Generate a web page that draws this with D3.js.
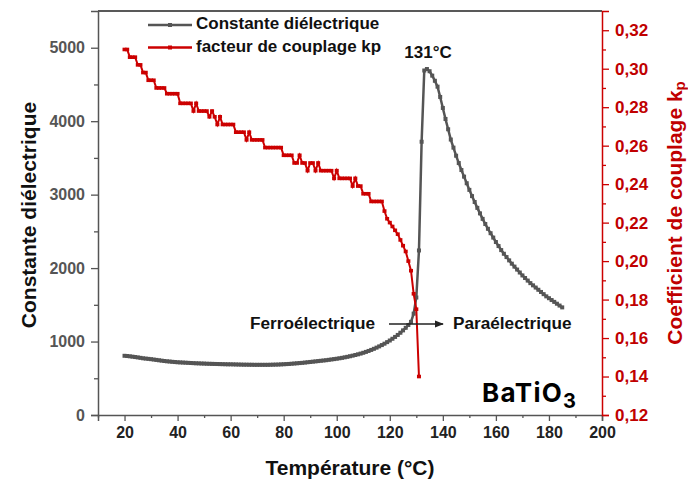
<!DOCTYPE html>
<html>
<head>
<meta charset="utf-8">
<script src="https://cdn.jsdelivr.net/npm/d3@7"></script>
<style>
  html, body { margin: 0; padding: 0; background: #fff; }
  svg { display: block; font-family: "Liberation Sans", Arial, sans-serif; font-weight: bold; }
</style>
</head>
<body>
<svg id="chart" width="688" height="485"></svg>
<script>
// Dielectric constant of BaTiO3 vs temperature (°C)
const dielTemps = [
  20,21,22,23,24,25,26,27,28,29,30,31,32,33,34,35,36,37,38,39,
  40,41,42,43,44,45,46,47,48,49,50,51,52,53,54,55,56,57,58,59,
  60,61,62,63,64,65,66,67,68,69,70,71,72,73,74,75,76,77,78,79,
  80,81,82,83,84,85,86,87,88,89,90,91,92,93,94,95,96,97,98,99,
  100,101,102,103,104,105,106,107,108,109,110,111,112,113,114,115,116,117,118,119,
  120,121,122,123,124,125,126,127,128,129,130,131,132,133,134,135,136,137,138,139,
  140,141,142,143,144,145,146,147,148,149,150,151,152,153,154,155,156,157,158,159,
  160,161,162,163,164,165,166,167,168,169,170,171,172,173,174,175,176,177,178,179,
  180,181,182,183,184,185
];
const dielValues = [
  806,803,799,794,789,784,778,772,768,764,760,755,750,745,740,735,731,728,724,721,
  718,716,714,712,710,708,706,704,703,701,700,698,697,696,695,694,693,692,691,690,
  690,689,688,687,686,685,685,684,684,683,683,683,683,683,683,684,685,686,687,689,
  691,693,695,698,701,704,707,710,714,718,722,726,730,734,738,742,746,751,756,761,
  766,772,778,785,792,800,808,817,826,836,847,859,872,886,901,917,934,952,971,992,
  1014,1038,1063,1090,1120,1152,1187,1225,1268,1380,1600,2240,3720,4690,4710,4680,4620,4550,4470,4330,
  4180,4030,3890,3750,3640,3530,3430,3335,3245,3155,3065,2980,2900,2820,2745,2670,2600,2535,2475,2415,
  2355,2300,2245,2195,2150,2105,2060,2020,1980,1940,1900,1865,1830,1795,1765,1735,1705,1675,1645,1615,
  1590,1565,1540,1515,1490,1465
];

// Planar coupling factor kp vs temperature (°C)
const kpTemps = [
  20,21,22,23,24,25,26,27,28,29,30,31,32,33,34,35,36,37,38,39,
  40,41,42,43,44,45,46,47,48,49,50,51,52,53,54,55,56,57,58,59,
  60,61,62,63,64,65,66,67,68,69,70,71,72,73,74,75,76,77,78,79,
  80,81,82,83,84,85,86,87,88,89,90,91,92,93,94,95,96,97,98,99,
  100,101,102,103,104,105,106,107,108,109,110,111,112,113,114,115,116,117,118,119,
  120,121,122,123,124,125,126,127,128,129,130,131
];
const kpValues = [
  0.310,0.310,0.306,0.306,0.306,0.302,0.302,0.298,0.298,0.294,0.294,0.294,0.290,0.290,0.290,0.290,0.287,0.287,0.287,0.287,
  0.287,0.282,0.282,0.282,0.282,0.282,0.278,0.282,0.278,0.278,0.278,0.278,0.275,0.278,0.275,0.271,0.275,0.271,0.271,0.271,
  0.271,0.271,0.267,0.267,0.267,0.267,0.263,0.267,0.263,0.263,0.263,0.263,0.263,0.259,0.259,0.259,0.259,0.259,0.259,0.259,
  0.255,0.255,0.255,0.255,0.251,0.251,0.255,0.251,0.251,0.247,0.251,0.251,0.247,0.251,0.247,0.247,0.247,0.247,0.247,0.243,
  0.247,0.243,0.243,0.243,0.243,0.243,0.239,0.243,0.239,0.239,0.235,0.235,0.235,0.231,0.231,0.231,0.231,0.231,0.226,0.222,
  0.220,0.218,0.216,0.214,0.211,0.208,0.205,0.200,0.195,0.183,0.175,0.140
];

// Axis ticks
const xMajorTicks = [20,40,60,80,100,120,140,160,180,200];
const xMinorTicks = [10,30,50,70,90,110,130,150,170,190];
const leftMajorTicks = [0,1000,2000,3000,4000,5000];
const leftMinorTicks = [500,1500,2500,3500,4500];
const rightMajorTicks = [0.12,0.14,0.16,0.18,0.20,0.22,0.24,0.26,0.28,0.30,0.32];
const rightMinorTicks = [0.13,0.15,0.17,0.19,0.21,0.23,0.25,0.27,0.29,0.31];

const GRAY = "#555555";
const RED = "#cc0000";
const RED_TEXT = "#c00000";

const svg = d3.select("#chart");
const plot = { left: 98, right: 602, top: 11, bottom: 415 };

const x = d3.scaleLinear().domain([10, 200]).range([plot.left, plot.right]);
const yL = d3.scaleLinear().domain([0, 5500]).range([plot.bottom, plot.top]);
const yR = d3.scaleLinear().domain([0.12, 0.33]).range([plot.bottom, plot.top]);

// top frame line
svg.append("line")
  .attr("x1", plot.left).attr("x2", plot.right)
  .attr("y1", plot.top).attr("y2", plot.top)
  .attr("stroke", "#222").attr("stroke-width", 1.5);

function styleAxis(g, color, textColor, fontSize) {
  g.select(".domain").attr("stroke", color).attr("stroke-width", 1.5);
  g.selectAll(".tick line").attr("stroke", color).attr("stroke-width", 1.3);
  g.selectAll(".tick text")
    .attr("fill", textColor)
    .style("font-size", fontSize + "px")
    .style("font-weight", "bold")
    .style("font-family", "'Liberation Sans', Arial, sans-serif");
}

// bottom axis
const gx = svg.append("g").attr("transform", `translate(0,${plot.bottom})`)
  .call(d3.axisBottom(x).tickValues(xMajorTicks).tickSize(6).tickPadding(6).tickFormat(d3.format("d")));
styleAxis(gx, GRAY, "#222", 16);
const gxm = svg.append("g").attr("transform", `translate(0,${plot.bottom})`)
  .call(d3.axisBottom(x).tickValues(xMinorTicks).tickSize(3).tickFormat(""));
styleAxis(gxm, GRAY, "#222", 16);
gxm.select(".domain").remove();

// left axis
const gl = svg.append("g").attr("transform", `translate(${plot.left},0)`)
  .call(d3.axisLeft(yL).tickValues(leftMajorTicks).tickSize(7).tickPadding(6).tickFormat(d3.format("d")));
styleAxis(gl, GRAY, GRAY, 16);
const glm = svg.append("g").attr("transform", `translate(${plot.left},0)`)
  .call(d3.axisLeft(yL).tickValues(leftMinorTicks).tickSize(4).tickFormat(""));
styleAxis(glm, GRAY, GRAY, 16);
glm.select(".domain").remove();

// right axis
const commaFmt = d => d3.format(".2f")(d).replace(".", ",");
const gr = svg.append("g").attr("transform", `translate(${plot.right},0)`)
  .call(d3.axisRight(yR).tickValues(rightMajorTicks).tickSize(7).tickPadding(6).tickFormat(commaFmt));
styleAxis(gr, RED, RED_TEXT, 17);
const grm = svg.append("g").attr("transform", `translate(${plot.right},0)`)
  .call(d3.axisRight(yR).tickValues(rightMinorTicks).tickSize(4).tickFormat(""));
styleAxis(grm, RED, RED_TEXT, 17);
grm.select(".domain").remove();

// axis titles
svg.append("text")
  .attr("transform", `translate(30,${(plot.top + plot.bottom) / 2 + 2}) rotate(-90)`)
  .attr("text-anchor", "middle").attr("dominant-baseline", "middle")
  .attr("fill", "#111").style("font-size", "21px")
  .text("Constante diélectrique");

const rt = svg.append("text")
  .attr("transform", `translate(676,${(plot.top + plot.bottom) / 2}) rotate(-90)`)
  .attr("text-anchor", "middle").attr("dominant-baseline", "middle")
  .attr("fill", RED_TEXT).style("font-size", "21px");
rt.append("tspan").text("Coefficient de couplage k");
rt.append("tspan").attr("dy", 5).style("font-size", "15px").text("p");

svg.append("text")
  .attr("x", (plot.left + plot.right) / 2).attr("y", 475)
  .attr("text-anchor", "middle").attr("fill", "#111").style("font-size", "21px")
  .text("Température (°C)");

// dielectric constant curve
const dielData = dielTemps.map((t, i) => ({ t, v: dielValues[i] }));
const kpData = kpTemps.map((t, i) => ({ t, v: kpValues[i] }));

svg.append("path").datum(dielData)
  .attr("fill", "none").attr("stroke", GRAY).attr("stroke-width", 2.5)
  .attr("d", d3.line().x(d => x(d.t)).y(d => yL(d.v)));
svg.append("g").selectAll("rect").data(dielData).join("rect")
  .attr("x", d => x(d.t) - 2).attr("y", d => yL(d.v) - 2)
  .attr("width", 4).attr("height", 4).attr("fill", GRAY);

// kp curve
svg.append("path").datum(kpData)
  .attr("fill", "none").attr("stroke", RED).attr("stroke-width", 2)
  .attr("d", d3.line().x(d => x(d.t)).y(d => yR(d.v)));
svg.append("g").selectAll("rect").data(kpData).join("rect")
  .attr("x", d => x(d.t) - 2).attr("y", d => yR(d.v) - 1.8)
  .attr("width", 4).attr("height", 3.6).attr("fill", RED);

// legend
const legendItems = [
  { label: "Constante diélectrique", color: GRAY, y: 25 },
  { label: "facteur de couplage kp", color: RED, y: 47.5 }
];
const lg = svg.append("g");
legendItems.forEach(it => {
  lg.append("line").attr("x1", 148).attr("x2", 192).attr("y1", it.y).attr("y2", it.y)
    .attr("stroke", it.color).attr("stroke-width", 2.5);
  lg.append("rect").attr("x", 168).attr("y", it.y - 2).attr("width", 4).attr("height", 4).attr("fill", it.color);
  lg.append("text").attr("x", 196).attr("y", it.y).attr("dominant-baseline", "middle")
    .attr("fill", "#111").style("font-size", "17px").text(it.label);
});

// annotations
svg.append("text").attr("x", 428).attr("y", 58).attr("text-anchor", "middle")
  .attr("fill", "#111").style("font-size", "17px").text("131°C");

svg.append("text").attr("x", 250).attr("y", 329)
  .attr("fill", "#111").style("font-size", "17.2px").text("Ferroélectrique");
svg.append("text").attr("x", 453).attr("y", 329)
  .attr("fill", "#111").style("font-size", "17.2px").text("Paraélectrique");

svg.append("defs").append("marker")
  .attr("id", "arrowhead").attr("viewBox", "0 0 10 10").attr("refX", 9).attr("refY", 5)
  .attr("markerWidth", 6).attr("markerHeight", 6).attr("orient", "auto")
  .append("path").attr("d", "M0,1 L10,5 L0,9 Z").attr("fill", "#222");
svg.append("line").attr("x1", 389).attr("x2", 443).attr("y1", 324).attr("y2", 324)
  .attr("stroke", "#222").attr("stroke-width", 1.5).attr("marker-end", "url(#arrowhead)");

const bt = svg.append("text").attr("x", 482).attr("y", 402)
  .attr("fill", "#000").style("font-family", "Inter, 'Noto Sans', sans-serif")
  .style("font-weight", "700").style("font-size", "26px").style("letter-spacing", "1.2px");
bt.append("tspan").text("BaTiO");
bt.append("tspan").attr("dy", 6).style("font-size", "20px").text("3");
</script>
</body>
</html>
